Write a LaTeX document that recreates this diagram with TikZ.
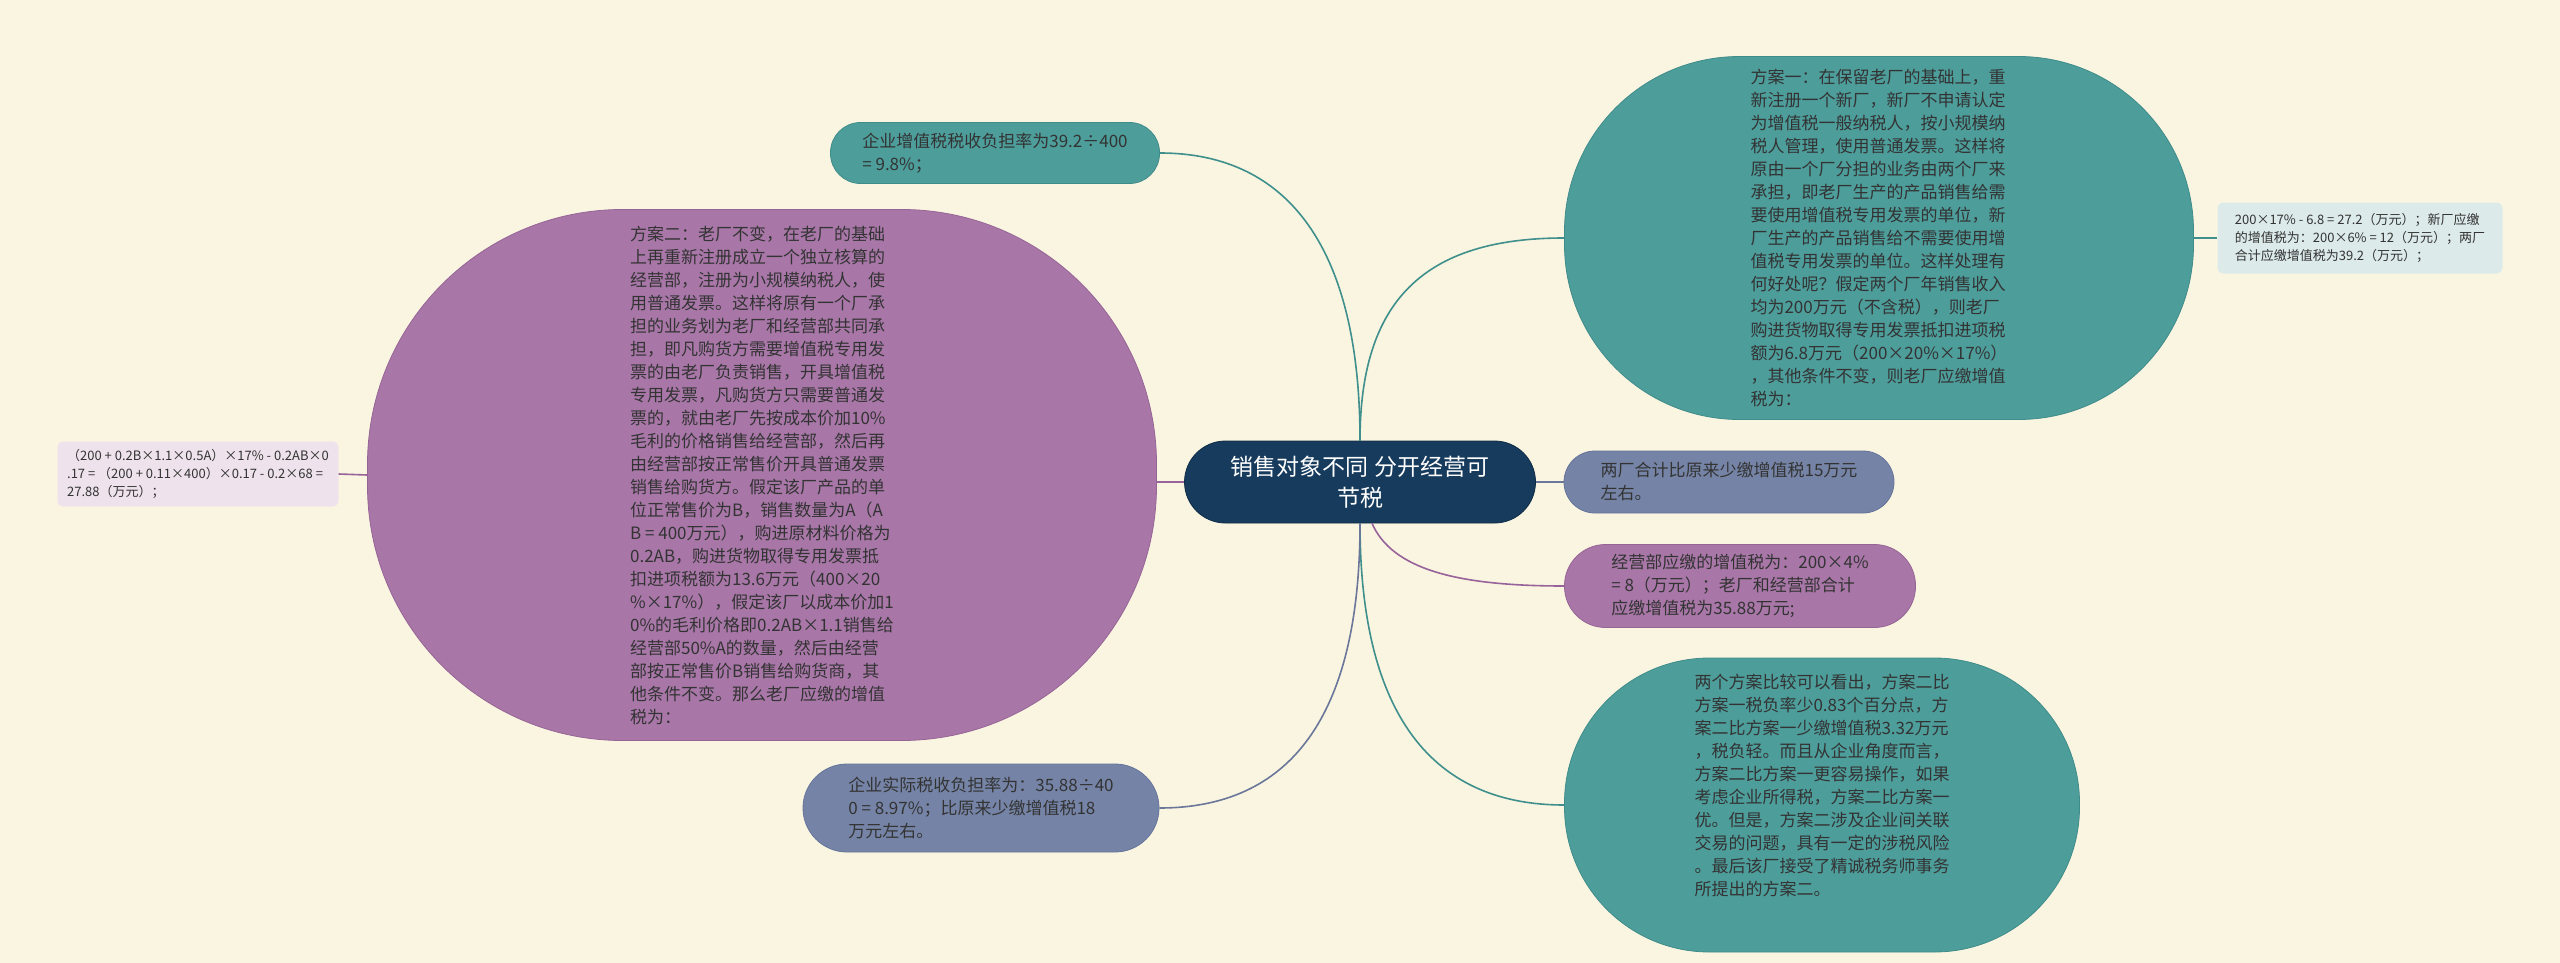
\documentclass[tikz,border=0pt]{standalone}
\usepackage{fontspec}
\setmainfont{Noto Sans CJK SC}

\begin{document}
\begin{tikzpicture}[x=1pt, y=-1pt,
    bodyText/.style={font=\fontsize{17}{23}\selectfont, align=left, text=textColour, inner sep=0pt},
    noteText/.style={font=\fontsize{13}{18}\selectfont, align=left, text=textColour, inner sep=0pt},
    tealBubble/.style={bodyText, fill=tealFill, draw=tealBorder, line width=0.8pt},
    purpleBubble/.style={bodyText, fill=purpleFill, draw=purpleBorder, line width=0.8pt},
    slateBubble/.style={bodyText, fill=slateFill, draw=slateBorder, line width=0.8pt},
    tealNote/.style={noteText, fill=tealNoteFill, rounded corners=6pt},
    purpleNote/.style={noteText, fill=purpleNoteFill, rounded corners=6pt},
    topic/.style={fill=topicFill, draw=topicBorder, line width=0.8pt, text=white, align=center,
        inner sep=0pt, font=\fontsize{23}{31}\selectfont},
    tealLink/.style={draw=tealLine, line width=1.6pt},
    purpleLink/.style={draw=purpleLine, line width=1.6pt},
    slateLink/.style={draw=slateLine, line width=1.6pt}]
    \definecolor{bgColour}{HTML}{FAF5E1}
    \definecolor{textColour}{HTML}{333333}
    \definecolor{topicFill}{HTML}{173B5C}
    \definecolor{topicBorder}{HTML}{0F2C47}
    \definecolor{tealFill}{HTML}{4D9D9B}
    \definecolor{tealBorder}{HTML}{3F8C8A}
    \definecolor{tealLine}{HTML}{3F8F8C}
    \definecolor{purpleFill}{HTML}{A877A8}
    \definecolor{purpleBorder}{HTML}{966596}
    \definecolor{purpleLine}{HTML}{97639A}
    \definecolor{slateFill}{HTML}{7584A6}
    \definecolor{slateBorder}{HTML}{65739A}
    \definecolor{slateLine}{HTML}{6A779A}
    \definecolor{tealNoteFill}{HTML}{DCEBE9}
    \definecolor{purpleNoteFill}{HTML}{EEE3EC}

    % Background
    \useasboundingbox (0,0) rectangle (2560,963);
    \fill[bgColour] (0,0) rectangle (2560,963);

    % Central topic
    \node[topic, rounded corners=41pt, minimum width=351pt, minimum height=82pt] (topic) at (1360,482)
        {销售对象不同 分开经营可\\节税};

    % Plan one and its note
    \node[tealBubble, rounded corners=175pt, minimum width=629pt, minimum height=363pt] (planOne) at (1879,238)
        {方案一：在保留老厂的基础上，重\\新注册一个新厂，新厂不申请认定\\为增值税一般纳税人，按小规模纳\\税人管理，使用普通发票。这样将\\原由一个厂分担的业务由两个厂来\\承担，即老厂生产的产品销售给需\\要使用增值税专用发票的单位，新\\厂生产的产品销售给不需要使用增\\值税专用发票的单位。这样处理有\\何好处呢？假定两个厂年销售收入\\均为200万元（不含税），则老厂\\购进货物取得专用发票抵扣进项税\\额为6.8万元（200×20\%×17\%）\\，其他条件不变，则老厂应缴增值\\税为：};
    \node[tealNote, minimum width=285pt, minimum height=71pt] (planOneNote) at (2360,238)
        {200×17\% - 6.8 = 27.2（万元）；新厂应缴\\的增值税为：200×6\% = 12（万元）；两厂\\合计应缴增值税为39.2（万元）；};

    % Tax burden of plan one
    \node[tealBubble, rounded corners=30pt, minimum width=329pt, minimum height=61pt] (burdenOne) at (995,153)
        {企业增值税税收负担率为39.2÷400\\= 9.8\%；};

    % Plan two and its note
    \node[purpleBubble, rounded corners=255pt, minimum width=789pt, minimum height=531pt] (planTwo) at (762,475)
        {方案二：老厂不变，在老厂的基础\\上再重新注册成立一个独立核算的\\经营部，注册为小规模纳税人，使\\用普通发票。这样将原有一个厂承\\担的业务划为老厂和经营部共同承\\担，即凡购货方需要增值税专用发\\票的由老厂负责销售，开具增值税\\专用发票，凡购货方只需要普通发\\票的，就由老厂先按成本价加10\%\\毛利的价格销售给经营部，然后再\\由经营部按正常售价开具普通发票\\销售给购货方。假定该厂产品的单\\位正常售价为B，销售数量为A（A\\B = 400万元），购进原材料价格为\\0.2AB，购进货物取得专用发票抵\\扣进项税额为13.6万元（400×20\\\%×17\%），假定该厂以成本价加1\\0\%的毛利价格即0.2AB×1.1销售给\\经营部50\%A的数量，然后由经营\\部按正常售价B销售给购货商，其\\他条件不变。那么老厂应缴的增值\\税为：};
    \node[purpleNote, minimum width=281pt, minimum height=65pt] (planTwoNote) at (198,474)
        {（200 + 0.2B×1.1×0.5A）×17\% - 0.2AB×0\\.17 = （200 + 0.11×400）×0.17 - 0.2×68 =\\27.88（万元）；};

    % Tax burden of plan two
    \node[slateBubble, rounded corners=44pt, minimum width=356pt, minimum height=88pt] (burdenTwo) at (981,808)
        {企业实际税收负担率为：35.88÷40\\0 = 8.97\%；比原来少缴增值税18\\万元左右。};

    % Right side results
    \node[slateBubble, rounded corners=31pt, minimum width=330pt, minimum height=62pt] (saving) at (1729,482)
        {两厂合计比原来少缴增值税15万元\\左右。};
    \node[purpleBubble, rounded corners=41pt, minimum width=351pt, minimum height=83pt] (shopTax) at (1740,586)
        {经营部应缴的增值税为：200×4\%\\= 8（万元）；老厂和经营部合计\\应缴增值税为35.88万元;};
    \node[tealBubble, rounded corners=145pt, minimum width=515pt, minimum height=294pt] (summary) at (1822,805)
        {两个方案比较可以看出，方案二比\\方案一税负率少0.83个百分点，方\\案二比方案一少缴增值税3.32万元\\，税负轻。而且从企业角度而言，\\方案二比方案一更容易操作，如果\\考虑企业所得税，方案二比方案一\\优。但是，方案二涉及企业间关联\\交易的问题，具有一定的涉税风险\\。最后该厂接受了精诚税务师事务\\所提出的方案二。\\[17pt]\mbox{}};

    % Connectors
    \draw[tealLink] (topic.north) .. controls +(0,-140) and +(-140,0) .. (planOne.west);
    \draw[tealLink] (topic.north) .. controls +(0,-190) and +(130,0) .. (burdenOne.east);
    \draw[purpleLink] (topic.west) -- (topic.west -| planTwo.east);
    \draw[slateLink] (topic.east) -- (saving.west);
    \draw[purpleLink] ([xshift=12pt]topic.south) .. controls +(20,45) and +(-110,0) .. (shopTax.west);
    \draw[tealLink] (topic.south) .. controls +(0,180) and +(-140,0) .. (summary.west);
    \draw[slateLink] (topic.south) .. controls +(0,180) and +(140,0) .. (burdenTwo.east);
    \draw[tealLink] (planOne.east) -- (planOneNote.west);
    \draw[purpleLink] (planTwo.west) -- (planTwoNote.east);

\end{tikzpicture}
\end{document}
